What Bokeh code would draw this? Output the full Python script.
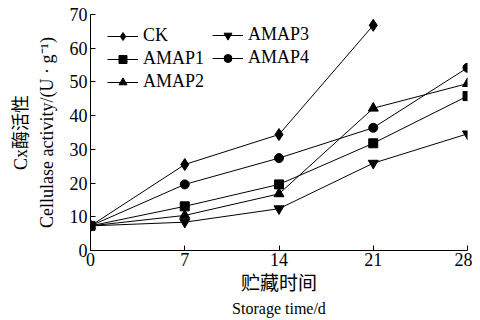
from bokeh.plotting import figure
from bokeh.models import Range1d, FixedTicker, Legend, LegendItem, LinearAxis
from bokeh.embed import file_html
from bokeh.resources import INLINE

days = [0, 7, 14, 21, 28]
ck = [7.3, 25.5, 34.4, 66.8]
amap1 = [7.3, 13.1, 19.6, 31.8, 45.8]
amap2 = [7.3, 10.4, 16.8, 42.2, 49.5]
amap3 = [7.3, 8.4, 12.4, 25.9, 34.6]
amap4 = [7.3, 19.6, 27.4, 36.4, 54.2]
x_ticks = [0, 7, 14, 21, 28]
y_ticks = [0, 10, 20, 30, 40, 50, 60, 70]

SERIF = "'Liberation Serif', 'Noto Sans CJK SC'"

p = figure(frame_width=377, frame_height=236, output_backend="svg", toolbar_location=None,
           x_range=Range1d(0, 28), y_range=Range1d(0, 70),
           min_border_left=90, min_border_right=5, min_border_top=14, min_border_bottom=0)
p.outline_line_color = None
p.grid.visible = False

for ax in (p.xaxis[0], p.yaxis[0]):
    ax.major_tick_in = 5
    ax.major_tick_out = 0
    ax.minor_tick_line_color = None
    ax.axis_line_color = "black"
    ax.major_tick_line_color = "black"
    ax.major_label_text_font = SERIF
    ax.major_label_text_font_size = "18px"
    ax.major_label_text_color = "black"
    ax.major_label_standoff = 3
    ax.axis_label_text_font = SERIF
    ax.axis_label_text_font_style = "normal"
    ax.axis_label_text_color = "black"

p.xaxis.ticker = FixedTicker(ticks=x_ticks)
p.yaxis.ticker = FixedTicker(ticks=y_ticks)
p.xaxis.major_label_standoff = 2

def label_axis(cls_loc, text, size, standoff):
    ax = LinearAxis(ticker=FixedTicker(ticks=[]), axis_line_color=None,
                    major_tick_line_color=None, minor_tick_line_color=None,
                    major_label_text_font_size="0px", major_tick_in=0, major_tick_out=0,
                    major_label_standoff=0,
                    axis_label=text, axis_label_text_font=SERIF,
                    axis_label_text_font_size=size, axis_label_text_font_style="normal",
                    axis_label_text_color="black", axis_label_standoff=standoff)
    p.add_layout(ax, cls_loc)
    return ax

# x axis: Chinese line then English line
p.xaxis[0].axis_label = "贮藏时间"
p.xaxis[0].axis_label_text_font_size = "19px"
p.xaxis[0].axis_label_standoff = 4
label_axis("below", "Storage time/d", "16px", 3)

# y axis: English line (inner) then Chinese line (outer)
p.yaxis[0].axis_label = "Cellulase activity/(U · g⁻¹)"
p.yaxis[0].axis_label_text_font_size = "18px"
p.yaxis[0].axis_label_standoff = 10
label_axis("left", "Cx酶活性", "18px", 3)

specs = [
    ("CK", ck, "diamond", 12),
    ("AMAP1", amap1, "square", 9),
    ("AMAP2", amap2, "triangle", 10),
    ("AMAP3", amap3, "inverted_triangle", 10),
    ("AMAP4", amap4, "circle", 9),
]
items = {}
for name, ys, marker, size in specs:
    xs = days[:len(ys)]
    l = p.line(xs, ys, line_color="black", line_width=1)
    s = p.scatter(xs, ys, marker=marker, size=size, fill_color="black", line_color="black")
    items[name] = LegendItem(label=name, renderers=[l, s])

def mk_legend(names, loc):
    lg = Legend(items=[items[n] for n in names], location=loc,
                border_line_color=None, background_fill_alpha=0,
                padding=0, margin=0, spacing=2, glyph_width=31, glyph_height=20,
                label_standoff=5, label_text_font=SERIF, label_text_font_size="18px",
                label_text_color="black", label_height=20)
    p.add_layout(lg, "center")

mk_legend(["CK", "AMAP1", "AMAP2"], (17, 158))
mk_legend(["AMAP3", "AMAP4"], (122, 182))

open("out.html", "w").write(file_html(p, INLINE))
